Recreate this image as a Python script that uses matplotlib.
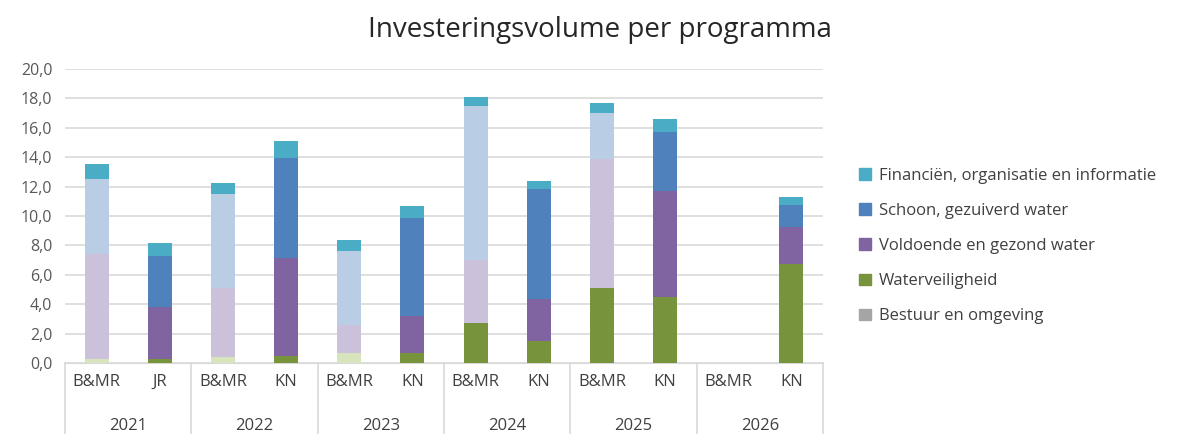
import numpy as np
import matplotlib.pyplot as plt
import matplotlib.transforms as mtransforms
from matplotlib.patches import Patch

plt.rcParams['font.family'] = ['Open Sans', 'DejaVu Sans']

years = ['2021', '2022', '2023', '2024', '2025', '2026']
sub_labels = ['B&MR', 'JR', 'B&MR', 'KN', 'B&MR', 'KN',
              'B&MR', 'KN', 'B&MR', 'KN', 'B&MR', 'KN']

bestuur = [0, 0, 0, 0, 0, 0, 0, 0, 0, 0, 0, 0]
waterveiligheid = [0.27, 0.27, 0.39, 0.50, 0.68, 0.68, 2.72, 1.52, 5.10, 4.47, 0, 6.76]
voldoende = [7.13, 3.53, 4.71, 6.62, 1.92, 2.49, 4.31, 2.86, 8.78, 7.25, 0, 2.49]
schoon = [5.10, 3.46, 6.40, 6.83, 5.00, 6.67, 10.43, 7.46, 3.12, 3.97, 0, 1.50]
financien = [1.06, 0.90, 0.74, 1.13, 0.74, 0.82, 0.64, 0.54, 0.69, 0.91, 0, 0.54]

series = [
    ('Bestuur en omgeving', bestuur, '#a5a5a5', '#d9d9d9'),
    ('Waterveiligheid', waterveiligheid, '#77933c', '#d7e4bd'),
    ('Voldoende en gezond water', voldoende, '#8064a2', '#ccc1da'),
    ('Schoon, gezuiverd water', schoon, '#4f81bd', '#b9cde5'),
    ('Financiën, organisatie en informatie', financien, '#4bacc6', '#4bacc6'),
]
# which bars use the pale colour, per series
pale = {
    'Waterveiligheid': [0, 2, 4],
    'Voldoende en gezond water': [0, 2, 4, 6, 8, 10],
    'Schoon, gezuiverd water': [0, 2, 4, 6, 8, 10],
}

fig = plt.figure(figsize=(11.86, 4.34), dpi=100)
ax = fig.add_axes([0.0548, 0.1636, 0.6392, 0.6774])

x = np.arange(len(sub_labels))
bottom = np.zeros(len(x))
handles = []
for name, vals, col, pcol in series:
    cols = [pcol if i in pale.get(name, []) else col for i in range(len(x))]
    ax.bar(x, vals, 0.38, bottom=bottom, color=cols, zorder=3)
    bottom += np.array(vals)
    handles.append(Patch(color=col, label=name))

ax.set_xlim(-0.5, len(x) - 0.5)
ax.set_ylim(0, 20)
ax.set_yticks(np.arange(0, 21, 2))
ax.set_yticklabels([f'{v:.1f}'.replace('.', ',') for v in np.arange(0, 21, 2)])
ax.grid(axis='y', color='#d9d9d9', linewidth=1.2, zorder=0)
for s in ['top', 'right', 'left']:
    ax.spines[s].set_visible(False)
ax.spines['bottom'].set_color('#d9d9d9')
ax.tick_params(axis='y', length=0, labelsize=11.5, labelcolor='#595959', pad=9)
ax.set_xticks(x)
ax.set_xticklabels(sub_labels)
ax.tick_params(axis='x', length=0, labelsize=12, labelcolor='#404040', pad=8)

trans = mtransforms.blended_transform_factory(ax.transData, ax.transAxes)
for k in range(len(years) + 1):
    xs = 2 * k - 0.5
    ax.plot([xs, xs], [0, -0.245], color='#d9d9d9', lw=1.2, transform=trans, clip_on=False)
for k, yr in enumerate(years):
    ax.text(2 * k + 0.5, -0.215, yr, transform=trans, ha='center', va='center',
            fontsize=12, color='#404040')

fig.suptitle('Investeringsvolume per programma', x=0.506, y=0.962, fontsize=20, color='#262626')

fig.legend(handles=handles[::-1], loc='center left', bbox_to_anchor=(0.712, 0.433),
           frameon=False, fontsize=12, handlelength=0.7, handleheight=0.7,
           labelspacing=1.15, handletextpad=0.45, labelcolor='#404040')

fig.savefig('out.png', dpi=100)
